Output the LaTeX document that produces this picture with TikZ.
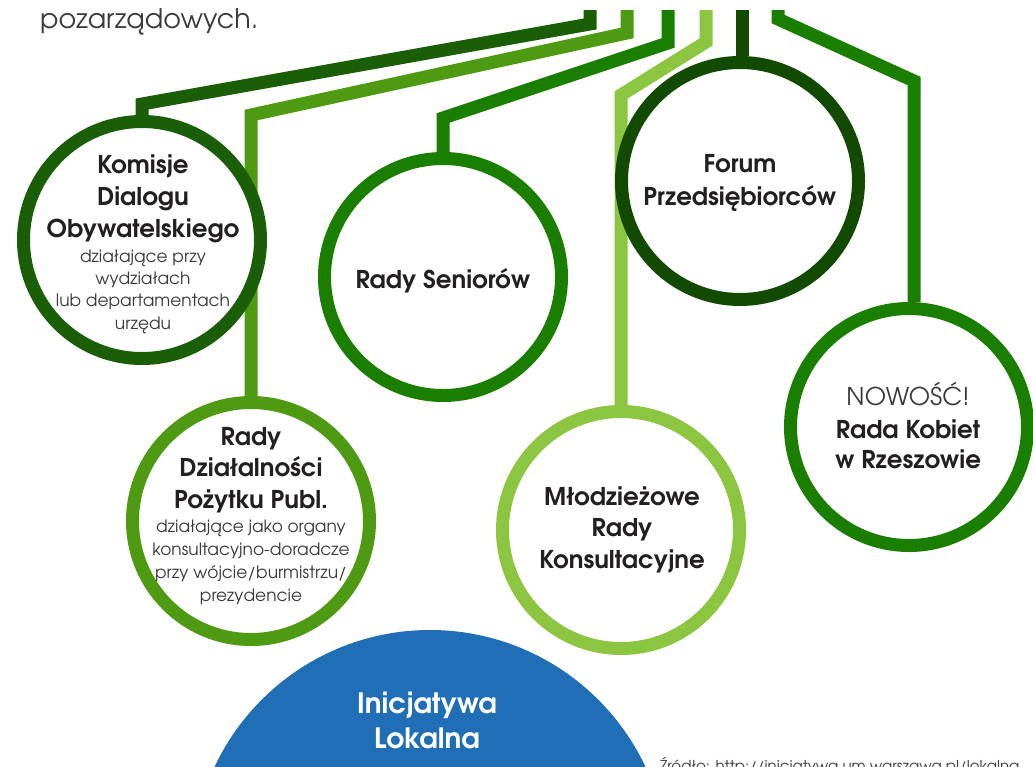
\documentclass[tikz,border=0pt]{standalone}
\usepackage{fontspec}
\setmainfont{texgyreadventor}[Extension=.otf, UprightFont=*-regular, BoldFont=*-bold, ItalicFont=*-italic, BoldItalicFont=*-bolditalic]
\usetikzlibrary{backgrounds}
\definecolor{cA}{HTML}{1B5E08}
\definecolor{cB}{HTML}{4E9A12}
\definecolor{cC}{HTML}{1A7F00}
\definecolor{cD}{HTML}{8CC540}
\definecolor{cE}{HTML}{124A02}
\definecolor{blueI}{HTML}{206EB5}
\definecolor{txt}{HTML}{231F20}
\definecolor{txtl}{HTML}{3A3A3A}
\begin{document}
\begin{tikzpicture}[x=1pt,y=-1pt,
  ring/.style={circle, draw, line width=13pt, fill=white, minimum size=237pt, inner sep=0pt},
  link/.style={line width=13pt},
  title/.style={font=\bfseries\fontsize{24.5}{28}\selectfont, text=txt, anchor=base, inner sep=0pt},
  sub/.style={font=\fontsize{17}{20}\selectfont, text=txtl, anchor=base, inner sep=0pt},
  plain/.style={font=\fontsize{24.5}{28}\selectfont, text=txtl, anchor=base, inner sep=0pt}]
\useasboundingbox (0,0) rectangle (1033,766);
\clip (0,0) rectangle (1033,766);

% top text
\node[font=\fontsize{27}{30}\selectfont, text=txtl, anchor=base west, inner sep=0pt] (top) at (40,28) {pozarządowych.};

% circles
\node[ring, draw=cA] (komisje) at (142,240) {};
\node[ring, draw=cB] (rdpp) at (251,521) {};
\node[ring, draw=cC] (seniorow) at (443,277) {};
\node[ring, draw=cD] (mlodz) at (621,530) {};
\node[ring, draw=cE] (forum) at (740,181) {};
\node[ring, draw=cC] (kobiet) at (909,427) {};

% blue circle
\node[circle, fill=blueI, minimum size=476pt, inner sep=0pt] (ini) at (430,868) {};

% connectors
\coordinate (tA) at (590,10); \coordinate (bA) at (590,24); \coordinate (cA1) at (142,104);
\coordinate (tB) at (627,10); \coordinate (bB) at (627,33); \coordinate (cB1) at (251,115);
\coordinate (tC) at (668,10); \coordinate (bC) at (668,43); \coordinate (cC1) at (443,118);
\coordinate (tD) at (706,10); \coordinate (bD) at (706,42); \coordinate (cD1) at (621,95);
\coordinate (tE) at (742,10);
\coordinate (tF) at (778,10); \coordinate (bF) at (778,19); \coordinate (cF1) at (914,81);
\begin{scope}[on background layer]
\draw[link, cA] (tA) -- (bA) -- (cA1) -- (komisje.north);
\draw[link, cB] (tB) -- (bB) -- (cB1) -- (rdpp.north);
\draw[link, cC] (tC) -- (bC) -- (cC1) -- (seniorow.north);
\draw[link, cD] (tD) -- (bD) -- (cD1) -- (mlodz.north);
\draw[link, cE] (tE) -- (tE |- forum.north);
\draw[link, cC] (tF) -- (bF) -- (cF1) -- (cF1 |- kobiet.north);
\end{scope}

% texts
\foreach \t [count=\i] in {Komisje, Dialogu, Obywatelskiego}
  \node[title] (k\i) at (143,{173+32*(\i-1)}) {\t};
\foreach \t [count=\i] in {działające przy, wydziałach, lub departamentach, urzędu}
  \node[sub] (ks\i) at (143,{262+22.4*(\i-1)}) {\t};

\foreach \t [count=\i] in {Rady, Działalności, Pożytku Publ.}
  \node[title] (r\i) at (251,{445+31.5*(\i-1)}) {\t};
\foreach \t [count=\i] in {działające jako organy, konsultacyjno-doradcze, przy wójcie/burmistrzu/, prezydencie}
  \node[sub] (rs\i) at (251,{532+23.3*(\i-1)}) {\t};

\node[title] (s1) at (443,288) {Rady Seniorów};

\foreach \t [count=\i] in {Młodzieżowe, Rady, Konsultacyjne}
  \node[title] (m\i) at (622,{505+31.5*(\i-1)}) {\t};

\foreach \t [count=\i] in {Forum, Przedsiębiorców}
  \node[title] (f\i) at (740,{172+33*(\i-1)}) {\t};

\node[plain] (n1) at (908,405) {NOWOŚĆ!};
\node[title] (n2) at (908,438) {Rada Kobiet};
\node[title] (n3) at (908,468) {w Rzeszowie};

\node[title, text=white, font=\bfseries\fontsize{28}{32}\selectfont] (i1) at (427,713) {Inicjatywa};
\node[title, text=white, font=\bfseries\fontsize{28}{32}\selectfont] (i2) at (427,748) {Lokalna};

\node[font=\fontsize{15}{18}\selectfont, text=txtl, anchor=base west, inner sep=0pt] (src) at (660,771) {Źródło: http://inicjatywa.um.warszawa.pl/lokalna};
\end{tikzpicture}
\end{document}
